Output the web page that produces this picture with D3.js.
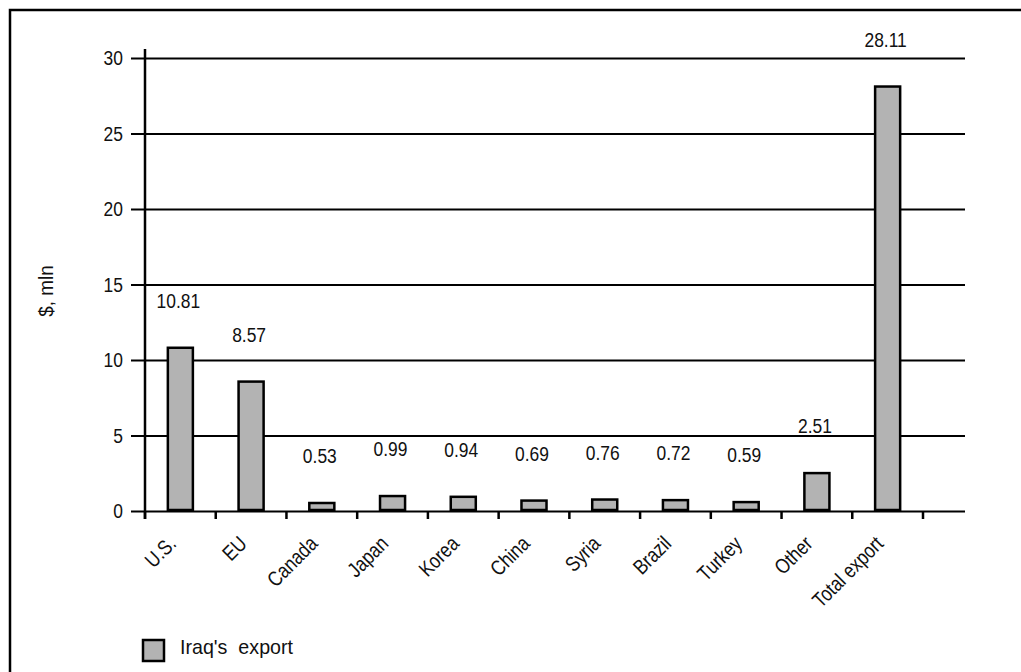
<!DOCTYPE html>
<html>
<head>
<meta charset="utf-8">
<script src="https://cdn.jsdelivr.net/npm/d3@7"></script>
<style>
  html, body { margin: 0; padding: 0; background: #fff; }
  svg { display: block; }
  text { font-family: "Liberation Sans", Arial, Helvetica, sans-serif; fill: #111; }
</style>
</head>
<body>
<svg id="chart" width="1021" height="672"></svg>
<script>
// Iraq's export by destination, $ mln
const categories = ["U.S.", "EU", "Canada", "Japan", "Korea", "China", "Syria", "Brazil", "Turkey", "Other", "Total export"];
const exportValues = [10.81, 8.57, 0.53, 0.99, 0.94, 0.69, 0.76, 0.72, 0.59, 2.51, 28.11];
const yTicks = [0, 5, 10, 15, 20, 25, 30];
const seriesName = "Iraq's  export";
const yLabel = "$, mln";

const svg = d3.select("#chart");

const plotLeft = 145, plotRight = 965, bandEnd = 923;
const plotTop = 58, plotBottom = 511;
const FONT = 21;
const SQUEEZE = 0.83; // horizontal squeeze for a narrow typeface look

const x = d3.scaleBand()
  .domain(categories)
  .range([plotLeft, bandEnd])
  .paddingInner(0.646)
  .paddingOuter(0.323);

const y = d3.scaleLinear().domain([0, 30]).range([plotBottom, plotTop]);

// places condensed text at (px, py) with optional rotation
function placeText(sel, px, py, rot, sx) {
  sel.attr("transform", (d, i) => {
    const X = typeof px === "function" ? px(d, i) : px;
    const Y = typeof py === "function" ? py(d, i) : py;
    return `translate(${X},${Y}) rotate(${rot || 0}) scale(${sx || SQUEEZE},1)`;
  });
  return sel;
}

// outer frame (runs past the right and bottom edges)
svg.append("rect")
  .attr("x", 10).attr("y", 10)
  .attr("width", 1030).attr("height", 700)
  .attr("fill", "none").attr("stroke", "#000").attr("stroke-width", 2.5);

// horizontal gridlines with left ticks
const yAxis = d3.axisLeft(y)
  .tickValues(yTicks)
  .tickSize(-(plotRight - plotLeft))
  .tickSizeOuter(0)
  .tickFormat("");

const gy = svg.append("g").attr("transform", `translate(${plotLeft},0)`).call(yAxis);
gy.select(".domain").remove();
gy.selectAll(".tick line")
  .attr("x1", -14)
  .attr("stroke", "#000").attr("stroke-width", 2);

// y tick labels
placeText(
  svg.append("g").selectAll("text").data(yTicks).join("text")
    .attr("text-anchor", "end")
    .attr("font-size", FONT)
    .attr("dy", "0.35em")
    .text(d => d),
  123, d => y(d));

// vertical axis line
svg.append("line")
  .attr("x1", plotLeft).attr("x2", plotLeft)
  .attr("y1", 49).attr("y2", plotBottom + 8)
  .attr("stroke", "#000").attr("stroke-width", 2.5);

// category ticks at band boundaries
const step = x.step();
const boundaries = d3.range(categories.length + 1).map(i => plotLeft + i * step);
svg.append("g").selectAll("line")
  .data(boundaries)
  .join("line")
  .attr("x1", d => d).attr("x2", d => d)
  .attr("y1", plotBottom).attr("y2", plotBottom + 8)
  .attr("stroke", "#000").attr("stroke-width", 2.5);

// bars
svg.append("g").selectAll("rect")
  .data(categories)
  .join("rect")
  .attr("x", d => x(d))
  .attr("y", (d, i) => y(exportValues[i]))
  .attr("width", x.bandwidth())
  .attr("height", (d, i) => plotBottom - y(exportValues[i]) - 1)
  .attr("fill", "#b3b3b3")
  .attr("stroke", "#000")
  .attr("stroke-width", 2.5);

// value labels
placeText(
  svg.append("g").selectAll("text").data(categories).join("text")
    .attr("text-anchor", "middle")
    .attr("font-size", FONT)
    .text((d, i) => exportValues[i].toFixed(2)),
  d => x(d) + x.bandwidth() / 2 - 2,
  (d, i) => y(exportValues[i]) - 40);

// rotated category labels
placeText(
  svg.append("g").selectAll("text").data(categories).join("text")
    .attr("text-anchor", "end")
    .attr("font-size", FONT)
    .text(d => d),
  d => x(d) + x.bandwidth() / 2 - 3,
  plotBottom + 34,
  -45);

// y-axis title
placeText(
  svg.append("text")
    .attr("text-anchor", "middle")
    .attr("font-size", FONT)
    .text(yLabel),
  53, 291, -90, 0.9);

// legend
const lg = svg.append("g").attr("transform", "translate(143,640)");
lg.append("rect")
  .attr("width", 21).attr("height", 21)
  .attr("fill", "#b3b3b3").attr("stroke", "#000").attr("stroke-width", 2.5);
lg.append("text")
  .attr("x", 37).attr("y", 14)
  .attr("font-size", FONT)
  .attr("textLength", 113)
  .attr("lengthAdjust", "spacingAndGlyphs")
  .attr("xml:space", "preserve")
  .style("white-space", "pre")
  .text(seriesName);
</script>
</body>
</html>
